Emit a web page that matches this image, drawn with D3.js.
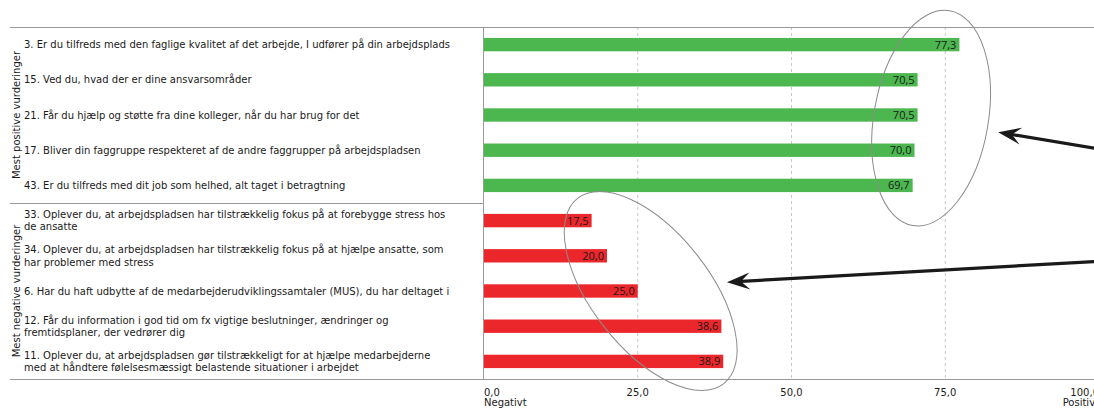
<!DOCTYPE html>
<html>
<head>
<meta charset="utf-8">
<script src="https://cdn.jsdelivr.net/npm/d3@7/dist/d3.min.js"></script>
<style>
  html, body { margin: 0; padding: 0; background: #fff; }
  svg { display: block; }
</style>
</head>
<body>
<div id="chart"></div>
<script>
// question labels (line breaks as in the report)
var questions = [
    "3. Er du tilfreds med den faglige kvalitet af det arbejde, I udfører på din arbejdsplads",
    "15. Ved du, hvad der er dine ansvarsområder",
    "21. Får du hjælp og støtte fra dine kolleger, når du har brug for det",
    "17. Bliver din faggruppe respekteret af de andre faggrupper på arbejdspladsen",
    "43. Er du tilfreds med dit job som helhed, alt taget i betragtning",
    "33. Oplever du, at arbejdspladsen har tilstrækkelig fokus på at forebygge stress hos\nde ansatte",
    "34. Oplever du, at arbejdspladsen har tilstrækkelig fokus på at hjælpe ansatte, som\nhar problemer med stress",
    "6. Har du haft udbytte af de medarbejderudviklingssamtaler (MUS), du har deltaget i",
    "12. Får du information i god tid om fx vigtige beslutninger, ændringer og\nfremtidsplaner, der vedrører dig",
    "11. Oplever du, at arbejdspladsen gør tilstrækkeligt for at hjælpe medarbejderne\nmed at håndtere følelsesmæssigt belastende situationer i arbejdet"
];
var scores = [77.3, 70.5, 70.5, 70.0, 69.7, 17.5, 20.0, 25.0, 38.6, 38.9];
var groupOf = ["pos", "pos", "pos", "pos", "pos", "neg", "neg", "neg", "neg", "neg"];

var groups = ["pos", "neg"];
var groupTitles = ["Mest positive vurderinger", "Mest negative vurderinger"];

var xTicks = [0, 25, 50, 75, 100];
var endLabels = ["Negativt", "Positivt"];

// annotations in data units (x value, row position)
var ellipses = [
    { x: 72.7, row: 2.59, rx: 9.3, ry: 109, angle: 9.8 },
    { x: 27.1, row: 7.5, rx: 9.55, ry: 118, angle: -38.3 }
];
var arrows = [
    { x1: 100.5, row1: 3.48, x2: 83.6, row2: 2.99 },
    { x1: 100.5, row1: 6.65, x2: 39.5, row2: 7.25 }
];

var w = 1094, h = 408;
var plotLeft = 484, plotRight = 1099, plotTop = 27, plotBottom = 379;

var svg = d3.select("#chart").append("svg")
    .attr("width", w)
    .attr("height", h)
    .style("font-family", "'DejaVu Sans', Verdana, sans-serif");

var xScale = d3.scaleLinear().domain([0, 100]).range([plotLeft, plotRight]);
var yScale = d3.scaleBand().domain(d3.range(questions.length)).range([plotTop, plotBottom]).paddingInner(0.62).paddingOuter(0.31);
var rowScale = d3.scaleLinear().domain([0, questions.length]).range([plotTop, plotBottom]);
var color = d3.scaleOrdinal().domain(groups).range(["#4cb74e", "#ec272b"]);

// dashed gridlines
svg.append("g")
    .selectAll("line")
    .data(xTicks.slice(1, -1))
    .enter().append("line")
    .attr("x1", function (d) { return xScale(d); })
    .attr("x2", function (d) { return xScale(d); })
    .attr("y1", plotTop)
    .attr("y2", plotBottom)
    .attr("stroke", "#c8c8c8")
    .attr("stroke-dasharray", "3,3");

// frame lines
svg.append("line").attr("x1", 10).attr("x2", w).attr("y1", plotTop + 0.5).attr("y2", plotTop + 0.5)
    .attr("stroke", "#999");
svg.append("line").attr("x1", 10).attr("x2", w).attr("y1", plotBottom + 0.5).attr("y2", plotBottom + 0.5)
    .attr("stroke", "#999");
svg.append("line").attr("x1", plotLeft - 0.5).attr("x2", plotLeft - 0.5).attr("y1", plotTop).attr("y2", plotBottom)
    .attr("stroke", "#999");

// separator between groups
var splitRow = groupOf.indexOf("neg");
svg.append("line")
    .attr("x1", 10).attr("x2", plotLeft)
    .attr("y1", Math.round(rowScale(splitRow)) + 0.5)
    .attr("y2", Math.round(rowScale(splitRow)) + 0.5)
    .attr("stroke", "#999");

// bars
svg.append("g")
    .selectAll("rect")
    .data(scores)
    .enter().append("rect")
    .attr("x", xScale(0))
    .attr("y", function (d, i) { return yScale(i); })
    .attr("width", function (d) { return xScale(d) - xScale(0); })
    .attr("height", yScale.bandwidth())
    .attr("fill", function (d, i) { return color(groupOf[i]); });

// value labels
svg.append("g")
    .selectAll("text")
    .data(scores)
    .enter().append("text")
    .attr("x", function (d) { return xScale(d) - 3; })
    .attr("y", function (d, i) { return yScale(i) + yScale.bandwidth() / 2; })
    .attr("dy", "0.36em")
    .attr("text-anchor", "end")
    .style("font-family", "'Open Sans', 'Noto Sans', sans-serif")
    .style("font-size", "11px")
    .style("fill", "#1a1a1a")
    .text(function (d) { return d.toFixed(1).replace(".", ","); });

// question labels
svg.append("g")
    .selectAll("text")
    .data(questions)
    .enter().append("text")
    .style("font-size", "10px")
    .style("fill", "#1a1a1a")
    .each(function (d, i) {
        var lines = d.split("\n");
        var cy = yScale(i) + yScale.bandwidth() / 2;
        var lh = 12.4;
        var t = d3.select(this);
        lines.forEach(function (line, k) {
            t.append("tspan")
                .attr("x", 24)
                .attr("y", cy + (k - (lines.length - 1) / 2) * lh)
                .attr("dy", "0.35em")
                .text(line);
        });
    });

// group titles
groups.forEach(function (g, gi) {
    var first = groupOf.indexOf(g), last = groupOf.lastIndexOf(g) + 1;
    var cy = (rowScale(first) + rowScale(last)) / 2;
    svg.append("text")
        .attr("transform", "translate(16," + cy + ") rotate(-90)")
        .attr("text-anchor", "middle")
        .attr("dy", "0.35em")
        .style("font-size", "10px")
        .style("fill", "#1a1a1a")
        .text(groupTitles[gi]);
});

// x tick labels
svg.append("g")
    .selectAll("text")
    .data(xTicks)
    .enter().append("text")
    .attr("x", function (d) { return xScale(d); })
    .attr("y", 396)
    .attr("text-anchor", function (d, i) { return i === 0 ? "start" : (i === xTicks.length - 1 ? "end" : "middle"); })
    .style("font-size", "10px")
    .style("fill", "#1a1a1a")
    .text(function (d) { return d.toFixed(1).replace(".", ","); });

svg.append("text").attr("x", xScale(0)).attr("y", 406)
    .style("font-size", "10px").style("fill", "#1a1a1a").text(endLabels[0]);
svg.append("text").attr("x", xScale(100)).attr("y", 406).attr("text-anchor", "end")
    .style("font-size", "10px").style("fill", "#1a1a1a").text(endLabels[1]);

// annotation ellipses
var pxPerUnit = xScale(1) - xScale(0);
svg.append("g")
    .selectAll("ellipse")
    .data(ellipses)
    .enter().append("ellipse")
    .attr("transform", function (d) {
        return "translate(" + xScale(d.x) + "," + rowScale(d.row) + ") rotate(" + d.angle + ")";
    })
    .attr("rx", function (d) { return d.rx * pxPerUnit; })
    .attr("ry", function (d) { return d.ry; })
    .attr("fill", "none")
    .attr("stroke", "#8c8c8c")
    .attr("stroke-width", 1);

// annotation arrows
var arrowG = svg.append("g");
arrows.forEach(function (a) {
    var x1 = xScale(a.x1), y1 = rowScale(a.row1), x2 = xScale(a.x2), y2 = rowScale(a.row2);
    var dx = x1 - x2, dy = y1 - y2, len = Math.sqrt(dx * dx + dy * dy);
    var ux = dx / len, uy = dy / len, nx = -uy, ny = ux;
    var L = 23, W = 8.5, N = 14;
    arrowG.append("line")
        .attr("x1", x1).attr("y1", y1)
        .attr("x2", x2 + ux * N).attr("y2", y2 + uy * N)
        .attr("stroke", "#1a1a1a")
        .attr("stroke-width", 3.2);
    var pts = [
        [x2, y2],
        [x2 + ux * L + nx * W, y2 + uy * L + ny * W],
        [x2 + ux * N, y2 + uy * N],
        [x2 + ux * L - nx * W, y2 + uy * L - ny * W]
    ];
    arrowG.append("path")
        .attr("d", "M" + pts.map(function (p) { return p.join(","); }).join("L") + "Z")
        .attr("fill", "#1a1a1a");
});
</script>
</body>
</html>
